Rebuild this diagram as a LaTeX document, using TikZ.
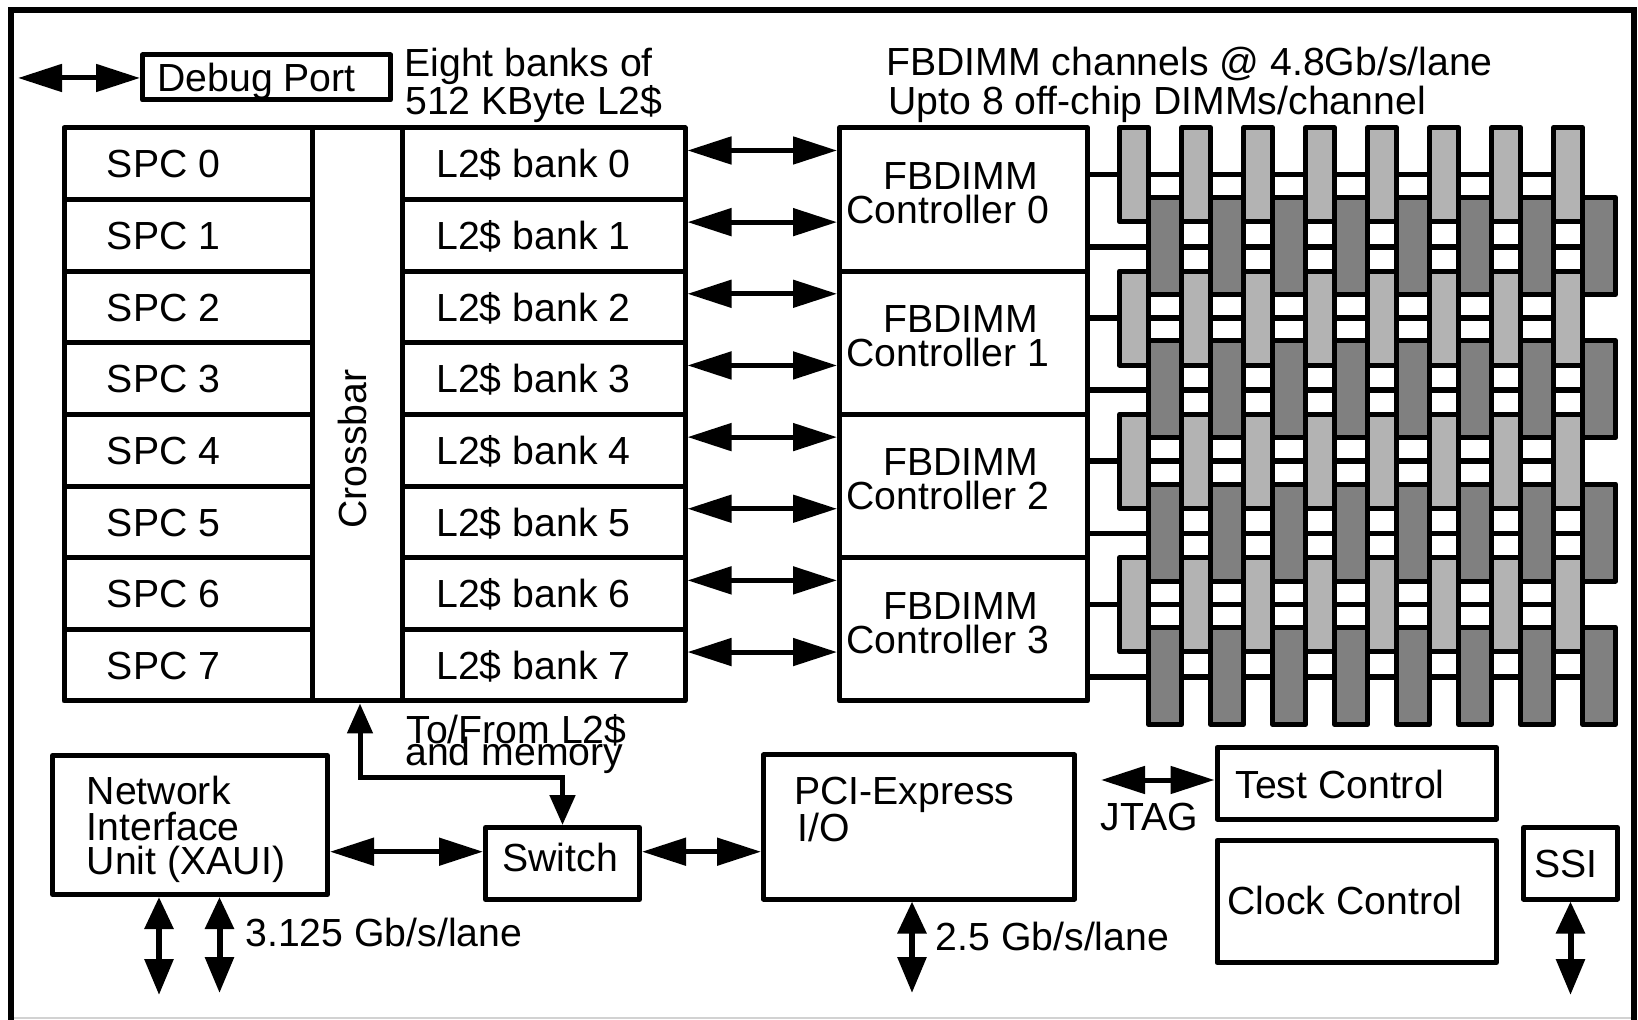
\documentclass[tikz,border=0pt]{standalone}
\usepackage{fontspec}
\setmainfont{Liberation Sans}
\usetikzlibrary{arrows.meta,fit,calc}
\definecolor{lightg}{HTML}{B3B3B3}
\definecolor{darkg}{HTML}{808080}
\begin{document}
\begin{tikzpicture}[x=0.5pt,y=-0.5pt,
  box/.style={draw, line width=2.5pt, inner sep=0pt, line join=round},
  txt/.style={inner sep=0pt, anchor=base west, font=\fontsize{19.6}{23}\selectfont},
  biarrow/.style={line width=2.5pt, {Triangle[length=22pt,width=13.5pt]}-{Triangle[length=22pt,width=13.5pt]}},
  varrow/.style={line width=3pt, {Triangle[length=16pt,width=14pt]}-{Triangle[length=18pt,width=14pt]}},
  xsarrow/.style={line width=2.5pt, {Triangle[length=15pt,width=12.5pt]}-{Triangle[length=15pt,width=12.5pt]}},
  dimmL/.style={draw, line width=2.5pt, fill=lightg, line join=round},
  dimmD/.style={draw, line width=2.5pt, fill=darkg, line join=round},
  chan/.style={line width=2.8pt}
]
\useasboundingbox (0,0) rectangle (1638,1020);
% frame
\draw[gray!35, line width=0.8pt] (11,1018) -- (1634,1018);
\draw[line width=3pt] (11,1020) -- (11,10) -- (1634,10) -- (1634,1020);

% Debug port
\node[box, fit={(142.5,55) (390.5,100)}] (dbg) {};
\node[txt] (dbgt) at (157,92) {Debug Port};
\coordinate (dbgL) at (18,78);
\draw[biarrow] (dbgL) -- (dbg.west |- dbgL);

% top texts
\node[txt] (t8a) at (404,77) {Eight banks of};
\node[txt] (t8b) at (405,115) {512 KByte L2\$};
\node[txt] (tfa) at (886,76) {FBDIMM channels @ 4.8Gb/s/lane};
\node[txt] (tfb) at (888,115) {Upto 8 off-chip DIMMs/channel};

% SPC, crossbar, L2 banks
\foreach \k in {0,...,7} {
  \pgfmathsetmacro\ya{127.8+71.65*\k}
  \pgfmathsetmacro\yb{127.8+71.65*(\k+1)}
  \pgfmathsetmacro\yt{127.8+71.65*\k+50}
  \node[box, fit={(64,\ya) (312.5,\yb)}] (spc\k) {};
  \node[box, fit={(402.5,\ya) (685,\yb)}] (l2b\k) {};
  \node[txt] (spct\k) at (106.5,\yt) {SPC \k};
  \node[txt] (l2t\k) at (436,\yt) {L2\$ bank \k};
}
\node[box, fit={(312.5,127.8) (402.5,701)}] (xbar) {};
\node[inner sep=0pt, rotate=90, font=\fontsize{19.6}{23}\selectfont] (xbart) at (352,449) {Crossbar};

% FBDIMM controllers
\foreach \c in {0,...,3} {
  \pgfmathsetmacro\ya{127.8+143.3*\c}
  \pgfmathsetmacro\yb{127.8+143.3*(\c+1)}
  \node[box, fit={(839.5,\ya) (1087.5,\yb)}] (c\c) {};
  \node[txt] (cta\c) at (883,{\ya+61.5}) {FBDIMM};
  \node[txt] (ctb\c) at (846,{\ya+95.5}) {Controller \c};
}

% L2 <-> controller arrows
\foreach \k in {0,...,7} {
  \pgfmathsetmacro\yy{150.5+71.65*\k}
  \draw[biarrow] (l2b\k.east |- 0,\yy) -- (c0.west |- 0,\yy);
}

% channel lines
\foreach \r in {0,...,3} {
  \pgfmathsetmacro\yl{174.5+143.3*\r}
  \pgfmathsetmacro\yd{247+143.3*\r}
  \draw[chan] (c\r.east |- 0,\yl) -- (1568,\yl);
  \draw[chan] (c\r.east |- 0,\yd) -- (1600,\yd);
}
% DIMMs
\foreach \r in {0,...,3} {
  \foreach \k in {0,...,7} {
    \draw[dimmL] ({1119.5+62*\k},{127.8+143.3*\r}) rectangle ++(29,94);
  }
}
\foreach \r in {0,...,3} {
  \foreach \k in {0,...,7} {
    \draw[dimmD] ({1148.5+62*\k},{197.5+143.3*\r}) rectangle ++(33,97);
  }
}

% bottom blocks
\node[box, fit={(52.5,755.5) (327.5,894.5)}] (niu) {};
\node[txt] (niut1) at (86.5,805) {Network};
\node[txt] (niut2) at (86.5,840) {Interface};
\node[txt] (niut3) at (86.5,874) {Unit (XAUI)};

\node[box, fit={(485.5,827.5) (639.5,899.5)}] (sw) {};
\node[txt] (swt) at (502,871.7) {Switch};

\node[box, fit={(763.5,755) (1074.5,899)}] (pci) {};
\node[txt] (pcit1) at (794,805) {PCI-Express};
\node[txt] (pcit2) at (797.5,841.7) {I/O};

\node[box, fit={(1217,747.5) (1496.5,819)}] (test) {};
\node[txt] (testt) at (1235,798.3) {Test Control};
\node[box, fit={(1217,840.5) (1496.5,962.5)}] (clk) {};
\node[txt] (clkt) at (1227,914) {Clock Control};
\node[box, fit={(1523.5,827.5) (1617.5,899)}] (ssi) {};
\node[txt] (ssit) at (1534,877) {SSI};

\node[txt] (tofrom1) at (406,743) {To/From L2\$};
\node[txt] (tofrom2) at (405,766) {and memory};
\node[txt] (r1) at (245,946.7) {3.125 Gb/s/lane};
\node[txt] (r2) at (935.5,950) {2.5 Gb/s/lane};
\node[txt] (jt) at (1100,830) {JTAG};

% connectors
\coordinate (xb) at (360,0 |- xbar.south);
\draw[xsarrow] (xb) -- (360,777.5) -| (sw.north);
\draw[biarrow] (niu.east |- 0,851.7) -- (sw.west |- 0,851.7);
\draw[biarrow] (sw.east |- 0,851.7) -- (pci.west |- 0,851.7);
\coordinate (jtagL) at (1101,780);
\draw[biarrow] (jtagL) -- (test.west |- jtagL);

\coordinate (n1) at (159,995);
\coordinate (n2) at (219.5,993);
\coordinate (p1) at (912,993);
\coordinate (s1) at (1570.5,995);
\draw[varrow] (n1 |- niu.south) -- (n1);
\draw[varrow] (n2 |- niu.south) -- (n2);
\draw[varrow] (p1 |- pci.south) -- (p1);
\draw[varrow] (s1 |- ssi.south) -- (s1);
\end{tikzpicture}
\end{document}
